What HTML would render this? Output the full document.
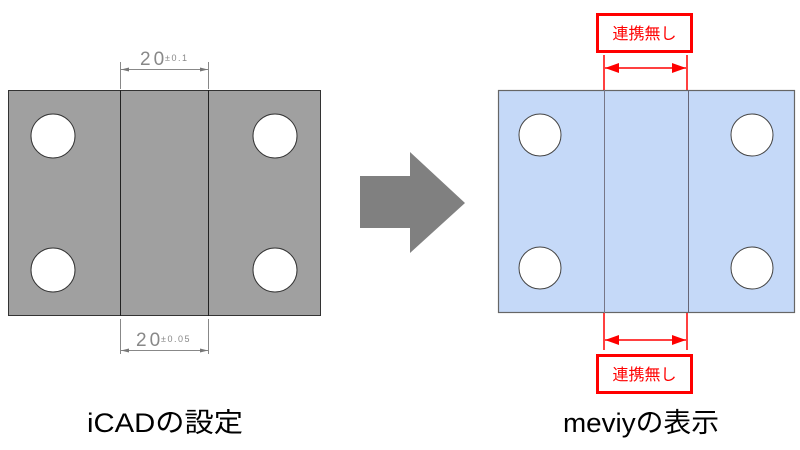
<!DOCTYPE html>
<html><head><meta charset="utf-8"><style>
body{margin:0;background:#fff;width:800px;height:450px;overflow:hidden}
svg{display:block}
</style></head><body>
<svg width="800" height="450" viewBox="0 0 800 450" xmlns="http://www.w3.org/2000/svg">
<defs>
<marker id="ga" markerWidth="8" markerHeight="6" refX="8" refY="3" orient="auto-start-reverse" markerUnits="userSpaceOnUse"><path d="M0,1 L8,3 L0,5z" fill="#777"/></marker>
<marker id="ra" markerWidth="14" markerHeight="10" refX="14" refY="5" orient="auto-start-reverse" markerUnits="userSpaceOnUse"><path d="M0,0 L14,5 L0,10z" fill="#f00"/></marker>
</defs>
<rect x="8.5" y="90.5" width="312" height="225" fill="#a0a0a0" stroke="#333" stroke-width="1"/>
<line x1="120.5" y1="90" x2="120.5" y2="316" stroke="#222"/>
<line x1="208.5" y1="90" x2="208.5" y2="316" stroke="#222"/>
<g fill="#fff" stroke="#333" stroke-width="1">
<circle cx="53" cy="136" r="22"/><circle cx="53" cy="270" r="22"/>
<circle cx="275" cy="136" r="22"/><circle cx="275" cy="270" r="22"/>
</g>
<g stroke="#888" stroke-width="1">
<line x1="120.5" y1="62" x2="120.5" y2="89"/><line x1="208.5" y1="62" x2="208.5" y2="89"/>
<line x1="121" y1="69.5" x2="208" y2="69.5" marker-start="url(#ga)" marker-end="url(#ga)"/>
<line x1="120.5" y1="319" x2="120.5" y2="354"/><line x1="208.5" y1="319" x2="208.5" y2="354"/>
<line x1="121" y1="350.5" x2="208" y2="350.5" marker-start="url(#ga)" marker-end="url(#ga)"/>
</g>
<g font-family="Liberation Sans, sans-serif" fill="#888">
<text x="140" y="65" font-size="19" font-weight="300" letter-spacing="3">20</text><text x="165" y="61" font-size="9" letter-spacing="1.5">±0.1</text>
<text x="136" y="346" font-size="19" font-weight="300" letter-spacing="3">20</text><text x="161" y="342" font-size="9" letter-spacing="1.5">±0.05</text>
</g>
<path d="M360,176 L410,176 L410,152 L465,203 L410,253 L410,228 L360,228z" fill="#808080"/>
<rect x="498.5" y="90.5" width="296" height="222" fill="#c5d9f8" stroke="#666" stroke-width="1.2"/>
<line x1="604.5" y1="90" x2="604.5" y2="313" stroke="#778" stroke-width="1"/>
<line x1="688.5" y1="90" x2="688.5" y2="313" stroke="#667" stroke-width="1"/>
<g fill="#fff" stroke="#444" stroke-width="1">
<circle cx="540" cy="135" r="21"/><circle cx="540" cy="268" r="21"/>
<circle cx="752" cy="135" r="21"/><circle cx="752" cy="268" r="21"/>
</g>
<g stroke="#f00" stroke-width="1.5">
<line x1="604" y1="55" x2="604" y2="90"/><line x1="687" y1="55" x2="687" y2="90"/>
<line x1="605" y1="68" x2="686" y2="68" marker-start="url(#ra)" marker-end="url(#ra)"/>
<line x1="604" y1="313" x2="604" y2="350"/><line x1="687" y1="313" x2="687" y2="350"/>
<line x1="605" y1="340" x2="686" y2="340" marker-start="url(#ra)" marker-end="url(#ra)"/>
</g>
<rect x="597.5" y="14.5" width="94" height="37" fill="#fff" stroke="#f00" stroke-width="3"/>
<rect x="597.5" y="355.5" width="94" height="37" fill="#fff" stroke="#f00" stroke-width="3"/>
<g font-family="Liberation Sans, Noto Sans CJK JP, sans-serif" fill="#f00" font-size="16" text-anchor="middle">
<text x="644.5" y="39">連携無し</text>
<text x="644.5" y="380">連携無し</text>
</g>
<g font-family="Liberation Sans, Noto Sans CJK JP, sans-serif" fill="#000" font-size="27" text-anchor="middle">
<text x="165" y="432" textLength="156" lengthAdjust="spacingAndGlyphs">iCADの設定</text>
<text x="641" y="432" textLength="156" lengthAdjust="spacingAndGlyphs">meviyの表示</text>
</g>
</svg>
</body></html>
